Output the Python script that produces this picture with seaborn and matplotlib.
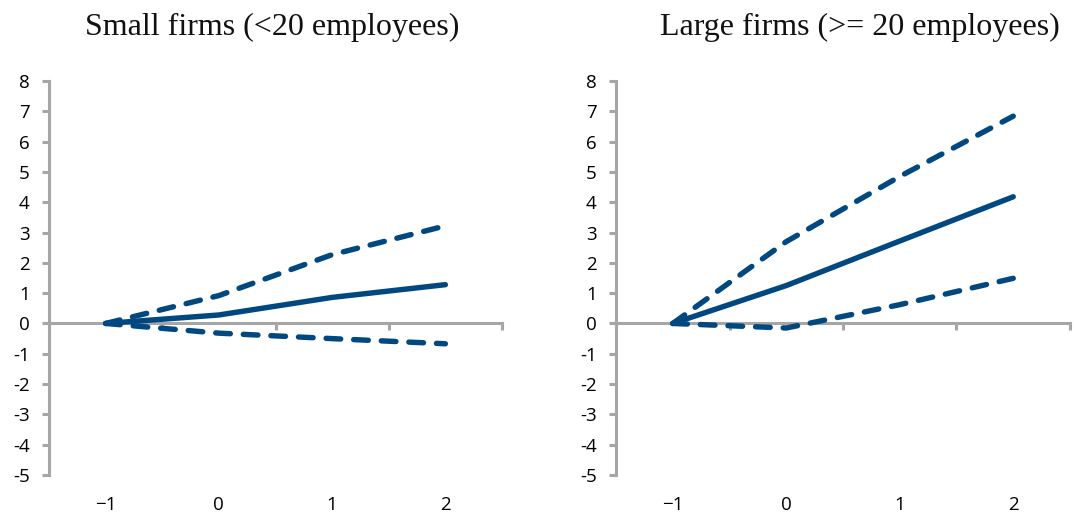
import numpy as np
import pandas as pd
import matplotlib
matplotlib.use("Agg")
import matplotlib.pyplot as plt
import seaborn as sns
from matplotlib.ticker import FixedLocator

# Event-time categories on the horizontal axis
periods = ["\u22121", "0", "1", "2"]

# Small firms (<20 employees): point estimate and confidence band
small_est = [0.0, 0.28, 0.86, 1.28]
small_upper = [0.0, 0.92, 2.27, 3.22]
small_lower = [0.0, -0.32, -0.50, -0.67]

# Large firms (>= 20 employees): point estimate and confidence band
large_est = [0.0, 1.25, 2.72, 4.18]
large_upper = [0.0, 2.70, 4.85, 6.84]
large_lower = [0.0, -0.15, 0.62, 1.49]

y_ticks = list(range(-5, 9))
y_ticklabels = [str(v) for v in y_ticks]

titles = ["Small firms (<20 employees)", "Large firms (>= 20 employees)"]

LINE = "#00487F"
AXIS = "#A6A6A6"

sns.set_theme(style="white")
plt.rcParams["font.family"] = ["Open Sans", "DejaVu Sans"]

fig = plt.figure(figsize=(10.74, 5.19), dpi=100)
W, H = 1074, 519
ax_left = fig.add_axes([49 / W, (H - 475) / H, 453 / W, (475 - 81) / H])
ax_right = fig.add_axes([616 / W, (H - 475) / H, 454 / W, (475 - 81) / H])

panels = [
    (ax_left, small_est, small_upper, small_lower, titles[0], 0.492),
    (ax_right, large_est, large_upper, large_lower, titles[1], 0.537),
]

x = np.arange(len(periods))

for ax, est, upper, lower, title, tx in panels:
    df = pd.DataFrame({"period": x, "est": est, "upper": upper, "lower": lower})
    for col, dashed in [("upper", True), ("lower", True), ("est", False)]:
        kw = dict(color=LINE, linewidth=3.9, solid_capstyle="round",
                  dash_capstyle="round", solid_joinstyle="round")
        if dashed:
            kw["dashes"] = (2.7, 2.4)
        sns.lineplot(data=df, x="period", y=col, ax=ax, **kw)

    ax.set_xlim(-0.5, len(periods) - 0.5)
    ax.set_ylim(-5, 8)
    ax.set_xlabel("")
    ax.set_ylabel("")

    # Horizontal axis sits on the zero line
    for side in ["top", "right"]:
        ax.spines[side].set_visible(False)
    ax.spines["bottom"].set_position(("data", 0))
    ax.spines["bottom"].set_color(AXIS)
    ax.spines["bottom"].set_linewidth(2.2)
    ax.spines["left"].set_color(AXIS)
    ax.spines["left"].set_linewidth(2.2)
    ax.spines["bottom"].set_zorder(1)

    ax.xaxis.set_major_locator(FixedLocator(list(x)))
    ax.set_xticklabels(periods, fontsize=13.5, color="#000000")
    ax.xaxis.set_minor_locator(FixedLocator(list(np.arange(len(periods) + 1) - 0.5)))
    ax.tick_params(axis="x", which="major", length=0, pad=124)
    ax.tick_params(axis="x", which="minor", length=5, width=2.2,
                   color=AXIS, direction="out", bottom=True)

    ax.set_yticks(y_ticks)
    ax.set_yticklabels(y_ticklabels, fontsize=13.5, color="#000000")
    ax.tick_params(axis="y", which="major", length=5, width=2.2,
                   color=AXIS, direction="out", left=True, pad=9)

    ax.set_title(title, fontsize=23, family=["Liberation Serif", "DejaVu Serif"],
                 x=tx, pad=33, color="#111111")
    for ln in ax.lines:
        ln.set_zorder(3)

fig.savefig("out.png", dpi=100)
